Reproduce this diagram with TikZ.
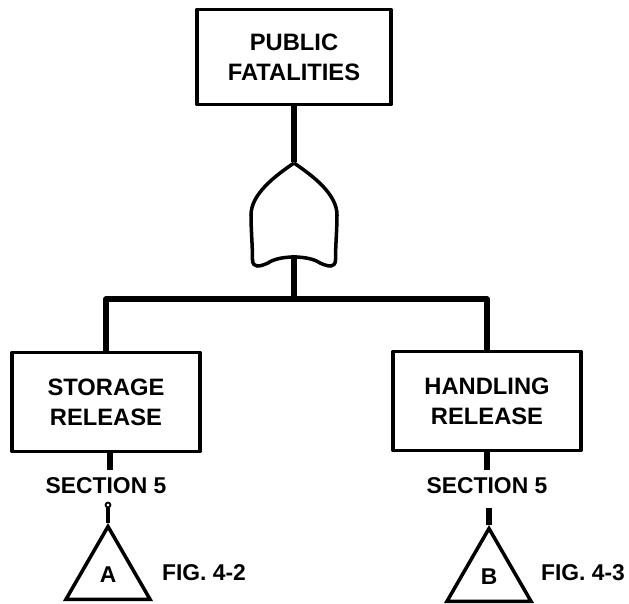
\documentclass[tikz,border=0pt]{standalone}
\usepackage{fontspec}
\setmainfont{Liberation Sans}
\usetikzlibrary{positioning, shapes.geometric}
\tikzstyle{every picture} = [line join=round]
\tikzstyle{event} = [draw, line width=2.2pt, align=center, font=\fontsize{13.5}{17}\selectfont\bfseries, minimum width=3.76cm, minimum height=1.98cm, inner sep=0pt]
\tikzstyle{transfer} = [draw, line width=2pt, line join=miter, regular polygon, regular polygon sides=3, minimum size=1.94cm, inner sep=0pt, font=\fontsize{13}{15}\selectfont\bfseries]
\tikzstyle{caption} = [font=\fontsize{13}{15}\selectfont\bfseries, inner sep=0pt]
\tikzstyle{link} = [line width=3.2pt]

\begin{document}
\begin{tikzpicture}
            \useasboundingbox (0,0) rectangle (12.58,-12.06);

            \node (node top) [event, minimum width=3.88cm, minimum height=1.9cm] at (5.88,-1.14) {PUBLIC\\FATALITIES};
            \node (node gate) [below of=node top, node distance=3.16cm, minimum width=1.7cm, minimum height=2.1cm, inner sep=0pt] {};
            \coordinate [below of=node gate, node distance=.8cm] (gate notch);
            \coordinate [below of=node gate, node distance=1.68cm] (bus);
            \node (node storage) [event, below of=node gate, xshift=-3.76cm, node distance=3.74cm] {STORAGE\\RELEASE};
            \node (node handling) [event, below of=node gate, xshift=3.86cm, node distance=3.72cm] {HANDLING\\RELEASE};
            \coordinate [below of=node storage, xshift=.08cm, node distance=1.36cm] (stub 1);
            \coordinate [below of=node handling, node distance=1.38cm] (stub 2);
            \node (section 1) [caption, below of=node storage, node distance=1.68cm] {SECTION 5};
            \node (section 2) [caption, below of=node handling, node distance=1.7cm] {SECTION 5};
            \node (node a) [transfer, below of=section 1, xshift=.04cm, node distance=1.78cm] {A};
            \node (node b) [transfer, below of=section 2, xshift=.04cm, node distance=1.82cm] {B};
            \node (fig 1) [caption, right of=node a, node distance=1.92cm, yshift=.04cm] {FIG. 4-2};
            \node (fig 2) [caption, right of=node b, node distance=1.88cm, yshift=.08cm] {FIG. 4-3};
            \node (stem 1) [circle, draw, fill=white, line width=1pt, minimum size=.1cm, inner sep=0pt, above of=node a, node distance=1.4cm] {};
            \coordinate [above of=node b, node distance=1.38cm] (stem 2);

            \draw [line width=2pt, shift={(node gate.center)}] (0,1.04)
                  .. controls (.38,.78) and (.86,.42) .. (.86,0)
                  .. controls (.86,-.3) and (.83,-.6) .. (.83,-.9)
                  .. controls (.82,-1.06) and (.7,-1.04) .. (.52,-.96)
                  .. controls (.3,-.8) and (-.3,-.8) .. (-.52,-.96)
                  .. controls (-.7,-1.04) and (-.82,-1.06) .. (-.83,-.9)
                  .. controls (-.83,-.6) and (-.86,-.3) .. (-.86,0)
                  .. controls (-.86,.42) and (-.38,.78) .. (0,1.04);

            \path (node top) edge[link] (node gate.north)
                  (gate notch) edge[link] (bus)
                  (stub 1 |- node storage.south) edge[link] (stub 1)
                  (stub 2 |- node handling.south) edge[link] (stub 2)
                  (stem 1) edge[line width=2.6pt] (node a.corner 1)
                  (stem 2) edge[link] (node b.corner 1);
            \draw [link] (node storage.north) |- (bus) -| (node handling.north);
        \end{tikzpicture}
\end{document}
